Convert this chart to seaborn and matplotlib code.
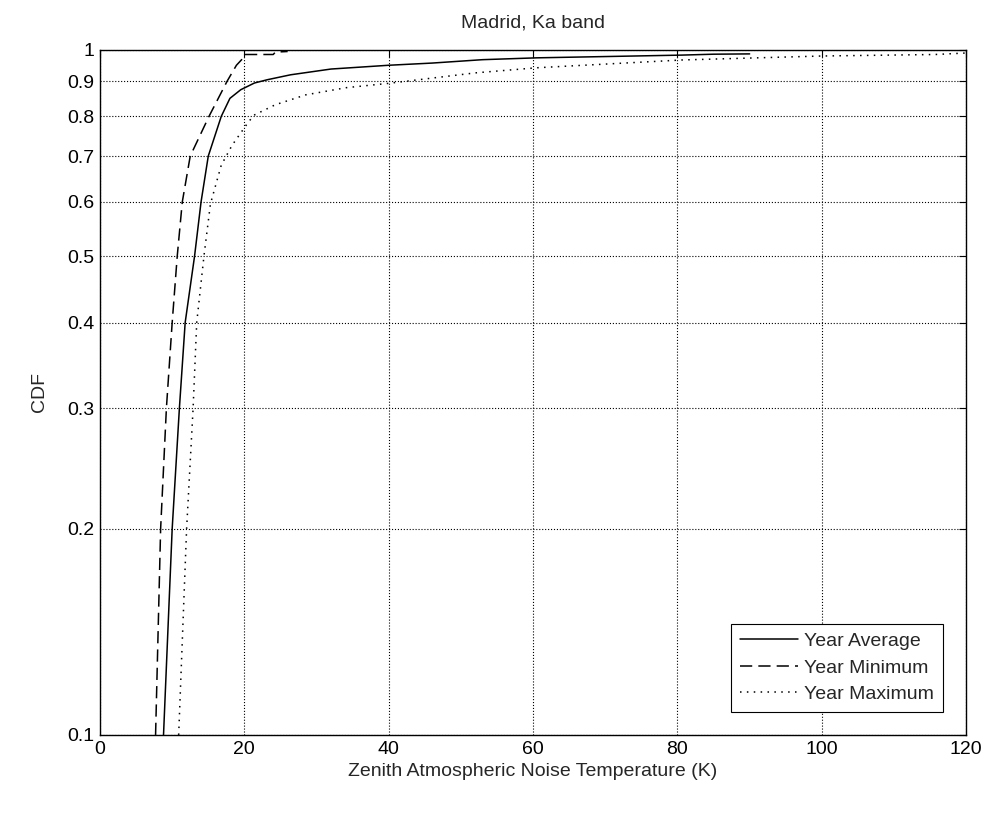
import numpy as np
import pandas as pd
import seaborn as sns
import matplotlib
matplotlib.use("Agg")
import matplotlib.pyplot as plt
from matplotlib.ticker import FixedLocator, FixedFormatter, NullLocator

# --- data (temperature K, CDF) ---
avg_T = [8.8, 10.0, 11.0, 11.8, 13.1, 14.0, 15.0, 16.8, 18.0, 19.5, 21.4, 23.2, 26.4, 32.0, 40.0, 46.0, 53.0, 60.5, 74.0, 80.6, 85.0, 90.0]
avg_P = [0.10, 0.20, 0.30, 0.40, 0.50, 0.60, 0.70, 0.80, 0.85, 0.875, 0.895, 0.905, 0.920, 0.938, 0.950, 0.957, 0.968, 0.974, 0.980, 0.983, 0.986, 0.987]

min_T = [7.7, 8.4, 9.2, 10.0, 10.7, 11.4, 12.5, 15.1, 17.6, 18.9, 19.9, 20.0, 24.0, 24.3, 26.0]
min_P = [0.10, 0.20, 0.30, 0.40, 0.50, 0.60, 0.70, 0.80, 0.90, 0.95, 0.975, 0.985, 0.985, 0.993, 0.995]

max_T = [10.9, 12.0, 12.9, 13.4, 14.4, 15.3, 16.8, 18.3, 20.3, 21.3, 24.3, 28.5, 34.1, 40.0, 52.0, 60.5, 80.6, 100.0, 115.7, 120.0]
max_P = [0.10, 0.20, 0.30, 0.40, 0.50, 0.596, 0.679, 0.726, 0.778, 0.803, 0.832, 0.860, 0.881, 0.894, 0.926, 0.942, 0.967, 0.980, 0.985, 0.990]

series_names = ["Year Average", "Year Minimum", "Year Maximum"]
ytick_vals = [0.1, 0.2, 0.3, 0.4, 0.5, 0.6, 0.7, 0.8, 0.9, 1.0]
ytick_labels = ["0.1", "0.2", "0.3", "0.4", "0.5", "0.6", "0.7", "0.8", "0.9", "1"]
xtick_vals = [0, 20, 40, 60, 80, 100, 120]

sns.set_style("white")
plt.rcParams["font.family"] = ["Liberation Sans", "DejaVu Sans"]

fig = plt.figure(figsize=(9.93, 8.13), dpi=100)
ax = fig.add_axes([0.1007, 0.096, 0.8723, 0.8425])

styles = [(avg_T, avg_P, "-", series_names[0]),
          (min_T, min_P, (0, (8, 4)), series_names[1]),
          (max_T, max_P, (0, (1, 3.5)), series_names[2])]
for T, P, ls, name in styles:
    df = pd.DataFrame({"T": T, "P": P})
    sns.lineplot(data=df, x="T", y="P", ax=ax, color="black", linewidth=1.1,
                 linestyle=ls, label=name, sort=False, estimator=None)

ax.set_yscale("log")
ax.set_ylim(0.1, 1.0)
ax.set_xlim(0, 120)
ax.yaxis.set_major_locator(FixedLocator(ytick_vals))
ax.yaxis.set_major_formatter(FixedFormatter(ytick_labels))
ax.yaxis.set_minor_locator(NullLocator())
ax.set_xticks(xtick_vals)
ax.set_xticklabels([str(v) for v in xtick_vals])

ax.grid(True, which="major", color="black", linestyle=":", linewidth=0.8)
ax.tick_params(direction="in", length=5, width=0.8, top=True, right=True,
               labelsize=14, colors="black", pad=4)
for s in ax.spines.values():
    s.set_color("black")
    s.set_linewidth(1.0)

ax.set_title("Madrid, Ka band", fontsize=14, pad=16)
ax.set_xlabel("Zenith Atmospheric Noise Temperature (K)", fontsize=14, labelpad=4)
ax.set_ylabel("CDF", fontsize=14, labelpad=14)

leg = ax.legend(loc="lower right", fontsize=14, handlelength=3.0, frameon=True,
                fancybox=False, borderaxespad=1.2, labelspacing=0.45,
                borderpad=0.45, handletextpad=0.3)
leg.get_frame().set_edgecolor("black")
leg.get_frame().set_linewidth(0.8)
leg.get_frame().set_alpha(1.0)

fig.savefig("out.png", dpi=100)
